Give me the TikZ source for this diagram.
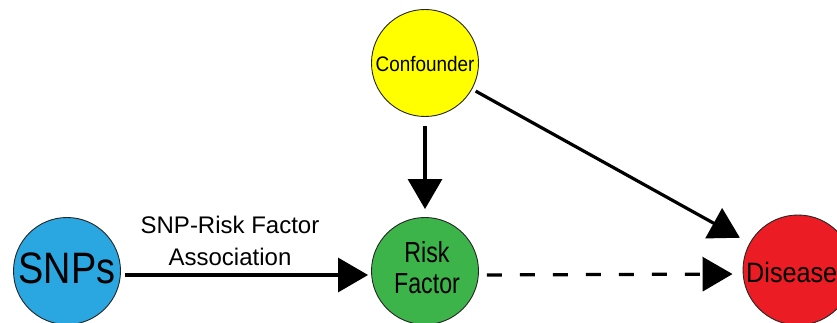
\documentclass[tikz,border=0pt]{standalone}
\usepackage{fontspec}
\setmainfont{Liberation Sans}
\usetikzlibrary{arrows.meta}
\definecolor{snpblue}{HTML}{2AA6E0}
\definecolor{confyellow}{HTML}{FFFF00}
\definecolor{riskgreen}{HTML}{3CB44A}
\definecolor{disred}{HTML}{EC1C24}
\tikzset{
  blob/.style={circle, draw=black!85, line width=0.9pt, minimum size=107pt, inner sep=0pt},
  link/.style={line width=3.2pt, -{Triangle[length=30pt,width=34pt]}},
}
\begin{document}
\begin{tikzpicture}[x=1pt,y=-1pt]
\useasboundingbox (0,0) rectangle (837,323);
\clip (0,0) rectangle (837,323);
\fill[white] (0,0) rectangle (837,323);
\node[blob, fill=snpblue] (snp) at (67,271) {};
\node[font=\fontsize{44}{46}\selectfont] (snpt) at (67,268) {\scalebox{0.86}[1]{SNPs}};
\node[blob, fill=confyellow] (conf) at (425,63) {};
\node[font=\fontsize{21}{23}\selectfont] (conft) at (425,64) {\scalebox{0.9}[1]{Confounder}};
\node[blob, fill=riskgreen] (risk) at (425,271) {};
\node[align=center, font=\fontsize{29}{31}\selectfont] (riskt) at (427,268) {\scalebox{0.8}[1]{Risk}\\\scalebox{0.8}[1]{Factor}};
\node[blob, fill=disred, minimum size=110pt] (dis) at (798,270) {};
\node[anchor=base west, inner sep=0pt, font=\fontsize{28}{30}\selectfont] (dist) at (746,282) {\scalebox{0.9}[1]{Disease}};
\node[align=center, font=\fontsize{24}{32}\selectfont] (lab) at (230,241) {SNP-Risk Factor\\Association};
\draw[link, shorten <=4pt, shorten >=3pt] ([yshift=-4pt]snp.east) -- ([yshift=-4pt]risk.west);
\draw[link, shorten <=8pt, shorten >=10pt, dash pattern=on 15pt off 18pt] ([yshift=-4pt]risk.east) -- ([yshift=-4pt]dis.west);
\draw[link, shorten <=9pt, shorten >=8pt] (conf) -- (risk);
\draw[link, shorten <=4pt, shorten >=11pt] (conf) -- (dis);
\end{tikzpicture}
\end{document}
